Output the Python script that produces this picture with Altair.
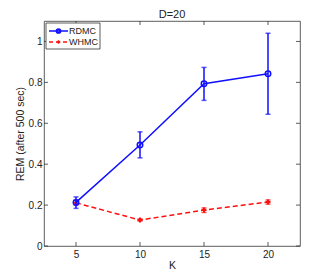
import altair as alt
import pandas as pd

K = [5, 10, 15, 20]
rdmc = [0.213, 0.494, 0.793, 0.842]
rdmc_lo = [0.184, 0.431, 0.712, 0.644]
rdmc_hi = [0.240, 0.558, 0.873, 1.040]
whmc = [0.211, 0.127, 0.176, 0.215]
whmc_lo = [0.200, 0.122, 0.164, 0.205]
whmc_hi = [0.224, 0.132, 0.186, 0.225]
x_ticks = [5, 10, 15, 20]
y_ticks = [0, 0.2, 0.4, 0.6, 0.8, 1.0]

BLUE = "#1010ff"
RED = "#ff1010"
FONT = "Liberation Sans"

W, H = 256, 225

rd = pd.DataFrame({"K": K, "v": rdmc, "lo": rdmc_lo, "hi": rdmc_hi})
wh = pd.DataFrame({"K": K, "v": whmc, "lo": whmc_lo, "hi": whmc_hi})

xs = alt.Scale(domain=[2.5, 22.5], nice=False, zero=False)
ys = alt.Scale(domain=[0, 1.1], nice=False)

xax = alt.Axis(values=x_ticks, title="K", grid=False, domain=False, ticks=False,
               labelPadding=3, titlePadding=1)
yax = alt.Axis(values=y_ticks, title="REM (after 500 sec)", grid=False, domain=False,
               ticks=False, labelPadding=2, titlePadding=3,
               labelExpr="datum.value == 0 ? '0' : datum.value == 1 ? '1' : format(datum.value, '.1f')")

base_rd = alt.Chart(rd)
base_wh = alt.Chart(wh)

rd_line = base_rd.mark_line(color=BLUE, strokeWidth=1.5).encode(
    x=alt.X("K:Q", scale=xs, axis=xax), y=alt.Y("v:Q", scale=ys, axis=yax))
rd_err = base_rd.mark_rule(color=BLUE, strokeWidth=1.5).encode(
    x="K:Q", y="lo:Q", y2="hi:Q")
rd_cap_lo = base_rd.mark_tick(color=BLUE, size=5, thickness=1.5, orient="horizontal").encode(x="K:Q", y="lo:Q")
rd_cap_hi = base_rd.mark_tick(color=BLUE, size=5, thickness=1.5, orient="horizontal").encode(x="K:Q", y="hi:Q")
rd_pt = base_rd.mark_point(color=BLUE, size=30, strokeWidth=1.5, filled=False, opacity=1).encode(x="K:Q", y="v:Q")

wh_line = base_wh.mark_line(color=RED, strokeWidth=1.5, strokeDash=[5, 3]).encode(x="K:Q", y="v:Q")
wh_err = base_wh.mark_rule(color=RED, strokeWidth=1.5).encode(x="K:Q", y="lo:Q", y2="hi:Q")
wh_cap_lo = base_wh.mark_tick(color=RED, size=5, thickness=1.5, orient="horizontal").encode(x="K:Q", y="lo:Q")
wh_cap_hi = base_wh.mark_tick(color=RED, size=5, thickness=1.5, orient="horizontal").encode(x="K:Q", y="hi:Q")
wh_pt = base_wh.mark_point(color=RED, size=25, shape="cross", filled=True, opacity=1).encode(x="K:Q", y="v:Q")

# inward ticks on all four sides
xt = pd.DataFrame({"t": x_ticks})
yt = pd.DataFrame({"t": y_ticks})
tc = "#333333"
tick_b = alt.Chart(xt).mark_rule(color=tc, strokeWidth=0.8).encode(
    x="t:Q", y=alt.value(H), y2=alt.value(H - 4))
tick_t = alt.Chart(xt).mark_rule(color=tc, strokeWidth=0.8).encode(
    x="t:Q", y=alt.value(0), y2=alt.value(4))
tick_l = alt.Chart(yt).mark_rule(color=tc, strokeWidth=0.8).encode(
    y="t:Q", x=alt.value(0), x2=alt.value(4))
tick_r = alt.Chart(yt).mark_rule(color=tc, strokeWidth=0.8).encode(
    y="t:Q", x=alt.value(W), x2=alt.value(W - 4))

# legend
one = pd.DataFrame({"a": [0]})
leg_box = alt.Chart(one).mark_rect(
    fill="white", stroke="#333333", strokeWidth=0.8).encode(
    x=alt.value(2), x2=alt.value(56), y=alt.value(2), y2=alt.value(28))
leg_l1 = alt.Chart(one).mark_rule(color=BLUE, strokeWidth=1.5).encode(
    x=alt.value(5), x2=alt.value(24), y=alt.value(10))
leg_l2 = alt.Chart(one).mark_rule(color=RED, strokeWidth=1.5, strokeDash=[4, 3]).encode(
    x=alt.value(5), x2=alt.value(24), y=alt.value(21))
leg_p1 = alt.Chart(one).mark_point(color=BLUE, size=14, filled=False, opacity=1).encode(
    x=alt.value(14.5), y=alt.value(10))
leg_p2 = alt.Chart(one).mark_point(color=RED, size=14, shape="cross", filled=True, opacity=1).encode(
    x=alt.value(14.5), y=alt.value(21))
leg_txt = alt.Chart(pd.DataFrame({"lab": ["RDMC", "WHMC"], "yy": [10, 21]})).mark_text(
    align="left", baseline="middle", font=FONT, fontSize=9, color="#222222").encode(
    x=alt.value(25), y=alt.Y("yy:Q", scale=None), text="lab:N")

chart = alt.layer(
    wh_line, wh_err, wh_cap_lo, wh_cap_hi, wh_pt,
    rd_line, rd_err, rd_cap_lo, rd_cap_hi, rd_pt,
    tick_b, tick_t, tick_l, tick_r,
    leg_box, leg_l1, leg_l2, leg_p1, leg_p2, leg_txt,
).properties(
    width=W, height=H,
    title=alt.TitleParams("D=20", font=FONT, fontSize=11, fontWeight="normal", color="#222222", offset=1),
    autosize=alt.AutoSizeParams(type="none"),
    padding={"left": 36, "top": 13, "right": 16, "bottom": 23},
).configure_view(
    stroke="#333333", strokeWidth=0.8
).configure_axis(
    labelFont=FONT, titleFont=FONT, labelFontSize=10, titleFontSize=10.5,
    labelColor="#222222", titleColor="#222222", titleFontWeight="normal"
)

chart.save("out.html", embed_options={"renderer": "svg", "actions": False})
